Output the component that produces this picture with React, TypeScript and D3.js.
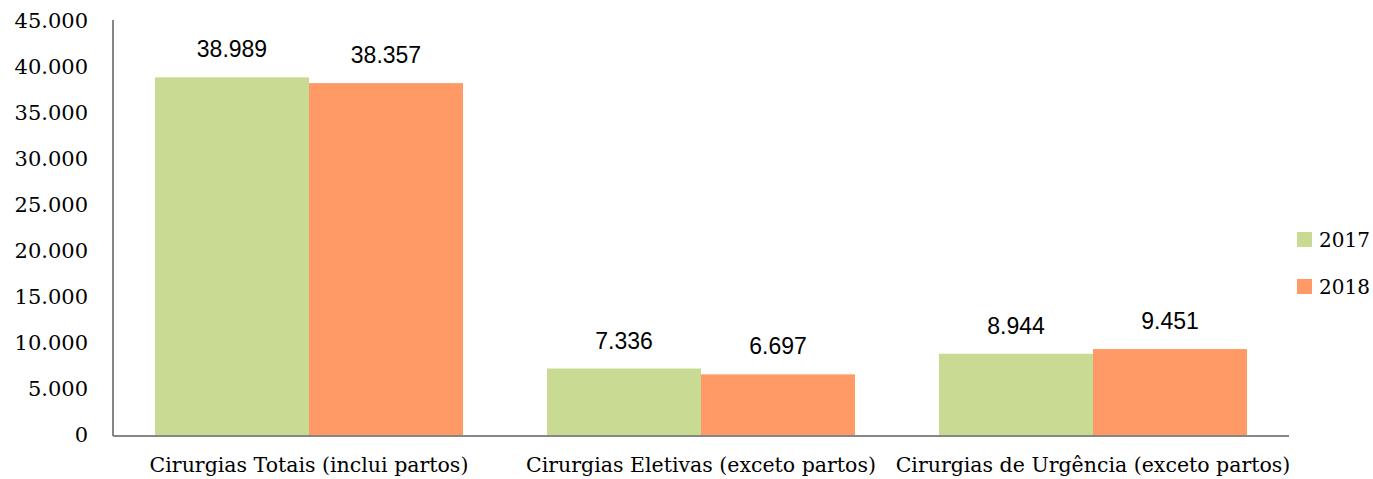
import React from "react";
import * as d3 from "d3";

const categories = ["Cirurgias Totais (inclui partos)", "Cirurgias Eletivas (exceto partos)", "Cirurgias de Urgência (exceto partos)"];
const seriesNames = ["2017", "2018"];
const values2017 = [38989, 7336, 8944];
const values2018 = [38357, 6697, 9451];
const yTicks = [0, 5000, 10000, 15000, 20000, 25000, 30000, 35000, 40000, 45000];
const colors = ["#C9DB93", "#FF9966"];

const W = 1373, H = 479;
const left = 113, right = 1289, top = 22, bottom = 436;

const fmt = (v: number) => v.toLocaleString("de-DE");

export default function App() {
  const x = d3.scaleBand<string>().domain(categories).range([left, right]).paddingInner(0).paddingOuter(0);
  const y = d3.scaleLinear().domain([0, 45000]).range([bottom, top]);
  const series = [values2017, values2018];
  const groupW = 308;
  const barW = groupW / 2;
  const serif = "'DejaVu Serif', serif";
  const sans = "'Liberation Sans', sans-serif";
  return (
    <svg width={W} height={H} style={{ position: "absolute", left: 0, top: 0, background: "#fff" }}>
      {categories.map((c, i) => {
        const cx = (x(c) as number) + x.bandwidth() / 2;
        return (
          <g key={c}>
            {series.map((vals, s) => {
              const bx = cx - groupW / 2 + s * barW;
              return (
                <g key={s}>
                  <rect x={bx} y={y(vals[i])} width={barW} height={bottom - y(vals[i])} fill={colors[s]} />
                  <text x={bx + barW / 2} y={y(vals[i]) - 20} textAnchor="middle" fontFamily={sans} fontSize={23} fill="#000">{fmt(vals[i])}</text>
                </g>
              );
            })}
            <text x={cx} y={472} textAnchor="middle" fontFamily={serif} fontSize={20.5} fill="#000">{c}</text>
          </g>
        );
      })}
      <line x1={left} y1={top - 2} x2={left} y2={bottom} stroke="#868686" strokeWidth={2} />
      <line x1={left} y1={bottom} x2={right} y2={bottom} stroke="#868686" strokeWidth={2} />
      {yTicks.map((t) => (
        <text key={t} x={88} y={y(t) + 6} textAnchor="end" fontFamily={serif} fontSize={21} fill="#000">{fmt(t)}</text>
      ))}
      {seriesNames.map((n, s) => (
        <g key={n}>
          <rect x={1297} y={232 + s * 47} width={15} height={15} fill={colors[s]} />
          <text x={1319} y={247 + s * 47} fontFamily={serif} fontSize={20} fill="#000">{n}</text>
        </g>
      ))}
    </svg>
  );
}
